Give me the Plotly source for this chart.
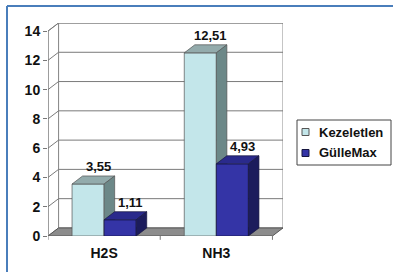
import plotly.graph_objects as go

# ---------------- data ----------------
categories = ["H2S", "NH3"]
series_names = ["Kezeletlen", "GülleMax"]
kezeletlen = [3.55, 12.51]
gullemax = [1.11, 4.93]
labels_kezeletlen = ["3,55", "12,51"]
labels_gullemax = ["1,11", "4,93"]
y_ticks = [0, 2, 4, 6, 8, 10, 12, 14]

# ---------------- styling / pseudo-3D geometry ----------------
BW = 0.2857   # bar width (category units)
DX = 0.094    # depth offset in x units
DY = 0.55     # depth offset in y units
YMAX = 14
X0, X1 = -0.5, 1.5
FONT = "Arial, Liberation Sans, sans-serif"

# plot area in pixels (for paper-coordinate conversion of the legend / frame)
W, H = 393, 272
ML, MR, MT, MB = 48, 110, 23, 36
PW, PH = W - ML - MR, H - MT - MB


def px(xp):
    return (xp - ML) / PW


def py(yp):
    return (H - MB - yp) / PH


colors = {
    "Kezeletlen": {"front": "#C3E6EA", "top": "#93ABAC", "side": "#6C8888", "edge": "#555555"},
    "GülleMax": {"front": "#3434A6", "top": "#2A2A8C", "side": "#1C1C5C", "edge": "#15153F"},
}

fig = go.Figure()


def add_bar(x_left, v, c, name):
    faces = [
        ([x_left, x_left + BW, x_left + BW, x_left, x_left],
         [0, 0, v, v, 0], c["front"]),
        ([x_left, x_left + BW, x_left + BW + DX, x_left + DX, x_left],
         [v, v, v + DY, v + DY, v], c["top"]),
        ([x_left + BW, x_left + BW + DX, x_left + BW + DX, x_left + BW, x_left + BW],
         [0, DY, v + DY, v, 0], c["side"]),
    ]
    for xs, ys, col in faces:
        fig.add_trace(go.Scatter(
            x=xs, y=ys, mode="lines", fill="toself", fillcolor=col, name=name,
            line=dict(color=c["edge"], width=0.7), showlegend=False, hoverinfo="skip"))


for i, cat in enumerate(categories):
    add_bar(i - BW, kezeletlen[i], colors["Kezeletlen"], "Kezeletlen")
    add_bar(i, gullemax[i], colors["GülleMax"], "GülleMax")

annotations = []
# value labels
for i in range(len(categories)):
    for xc, v, lab in [(i - BW / 2 + DX, kezeletlen[i], labels_kezeletlen[i]),
                       (i + BW / 2 + DX, gullemax[i], labels_gullemax[i])]:
        annotations.append(dict(text=f"<b>{lab}</b>", x=xc, y=v + DY, xref="x", yref="y",
                                xanchor="center", yanchor="bottom", yshift=0,
                                showarrow=False,
                                font=dict(family=FONT, size=13, color="#111111")))

# ---------------- walls, floor, gridlines ----------------
shapes = []
shapes.append(dict(type="path", xref="x", yref="y", layer="below",
                   path=f"M {X0+DX},{DY} L {X1+DX},{DY} L {X1+DX},{YMAX+DY} L {X0+DX},{YMAX+DY} Z",
                   fillcolor="white", line=dict(color="#8A8A8A", width=1)))
shapes.append(dict(type="path", xref="x", yref="y", layer="below",
                   path=f"M {X0},0 L {X0+DX},{DY} L {X0+DX},{YMAX+DY} L {X0},{YMAX} Z",
                   fillcolor="white", line=dict(color="#8A8A8A", width=1)))
for v in y_ticks[1:]:
    shapes.append(dict(type="line", xref="x", yref="y", layer="below",
                       x0=X0 + DX, x1=X1 + DX, y0=v + DY, y1=v + DY,
                       line=dict(color="#7A7A7A", width=1)))
    shapes.append(dict(type="line", xref="x", yref="y", layer="below",
                       x0=X0, x1=X0 + DX, y0=v, y1=v + DY,
                       line=dict(color="#7A7A7A", width=1)))
shapes.append(dict(type="path", xref="x", yref="y", layer="below",
                   path=f"M {X0},0 L {X1},0 L {X1+DX},{DY} L {X0+DX},{DY} Z",
                   fillcolor="#8C8C8C", line=dict(color="#555555", width=1)))
shapes.append(dict(type="line", xref="x", yref="y", layer="below",
                   x0=X0, x1=X0, y0=0, y1=YMAX, line=dict(color="#777777", width=1)))
for xt in [X0, 0.5, X1]:
    shapes.append(dict(type="line", xref="x", yref="paper",
                       x0=xt, x1=xt, y0=0, y1=-0.018, line=dict(color="#777777", width=1)))
# blue page frame (left and top)
shapes.append(dict(type="line", xref="paper", yref="paper",
                   x0=px(7), x1=px(7), y0=py(6), y1=py(290), line=dict(color="#4A7EBB", width=2)))
shapes.append(dict(type="line", xref="paper", yref="paper",
                   x0=px(7), x1=px(400), y0=py(6), y1=py(6), line=dict(color="#4A7EBB", width=2)))

# ---------------- legend (drawn as box + swatches + text) ----------------
shapes.append(dict(type="rect", xref="paper", yref="paper",
                   x0=px(297), x1=px(391), y0=py(120), y1=py(165),
                   fillcolor="white", line=dict(color="#444444", width=1)))
for name, yc in zip(series_names, [132, 153]):
    shapes.append(dict(type="rect", xref="paper", yref="paper",
                       x0=px(302), x1=px(309), y0=py(yc - 3.5), y1=py(yc + 3.5),
                       fillcolor=colors[name]["front"],
                       line=dict(color=colors[name]["edge"], width=1)))
    annotations.append(dict(text=f"<b>{name}</b>", xref="paper", yref="paper",
                            x=px(317), y=py(yc), xanchor="left", yanchor="middle",
                            showarrow=False,
                            font=dict(family=FONT, size=13, color="#111111")))

fig.update_layout(
    width=W, height=H,
    margin=dict(l=ML, r=MR, t=MT, b=MB, autoexpand=False),
    paper_bgcolor="white", plot_bgcolor="rgba(0,0,0,0)",
    shapes=shapes, annotations=annotations,
    showlegend=False,
    xaxis=dict(range=[X0, X1 + DX], tickvals=[0, 1], ticktext=categories,
               showgrid=False, zeroline=False, showline=False, ticks="",
               automargin=False, ticklabelstandoff=7,
               tickfont=dict(family=FONT, size=14, color="#111111", weight="bold")),
    yaxis=dict(range=[0, YMAX + DY], tickvals=y_ticks,
               showgrid=False, zeroline=False, showline=False, automargin=False,
               ticks="outside", ticklen=4, tickcolor="#777777",
               tickfont=dict(family=FONT, size=14, color="#111111", weight="bold")),
)

fig.write_html("out.html", config={"displayModeBar": False},
               post_script="document.body.style.margin='0px';document.body.style.overflow='hidden';")
